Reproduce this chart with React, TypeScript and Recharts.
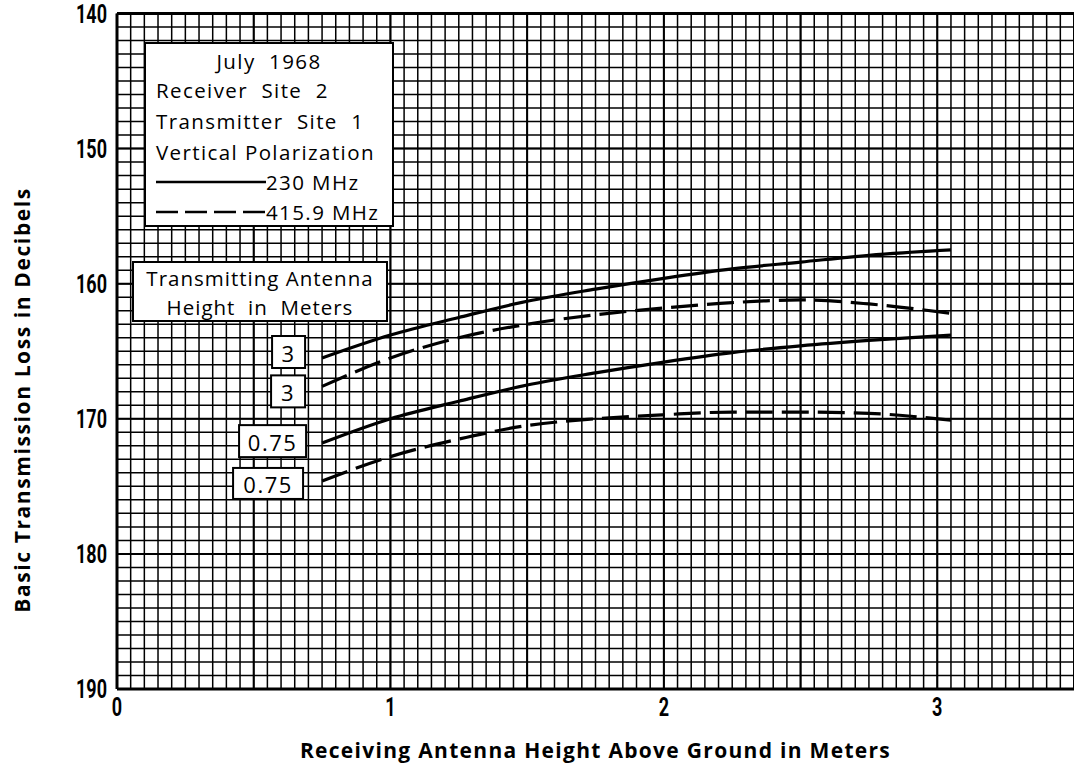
import { LineChart, Line, XAxis, YAxis, CartesianGrid, ReferenceLine, Label } from 'recharts';

// receiving antenna height (m) where the curves were read
const receiverHeights = [0.75, 1, 1.25, 1.5, 1.75, 2, 2.25, 2.5, 2.75, 3.05];

// basic transmission loss (dB)
const loss230Tx3 = [165.5, 163.8, 162.5, 161.3, 160.4, 159.6, 158.9, 158.4, 157.9, 157.5];
const loss416Tx3 = [167.6, 165.5, 164.0, 163.0, 162.3, 161.8, 161.4, 161.2, 161.5, 162.2];
const loss230Tx075 = [171.8, 170.0, 168.7, 167.5, 166.6, 165.8, 165.1, 164.6, 164.2, 163.8];
const loss416Tx075 = [174.6, 172.8, 171.5, 170.5, 170.0, 169.7, 169.5, 169.5, 169.6, 170.1];

const xTicks = [0, 1, 2, 3];
const yTicks = [140, 150, 160, 170, 180, 190];

// graph paper rulings
const minorX = Array.from({ length: 71 }, (_, i) => Math.round(i * 5) / 100);
const minorY = Array.from({ length: 51 }, (_, i) => 140 + i);
const majorX = [0.5, 1, 1.5, 2, 2.5, 3, 3.5];
const majorY = [150, 160, 170, 180];

const data = receiverHeights.map((h, i) => ({
  h,
  f230tx3: loss230Tx3[i],
  f416tx3: loss416Tx3[i],
  f230tx075: loss230Tx075[i],
  f416tx075: loss416Tx075[i],
}));

const series = [
  { key: 'f230tx3', tag: '3', dash: undefined, box: { dx: -50, dy: -22, w: 33, h: 32 } },
  { key: 'f416tx3', tag: '3', dash: '27 9', box: { dx: -51, dy: -11, w: 34, h: 32 } },
  { key: 'f230tx075', tag: '0.75', dash: undefined, box: { dx: -83, dy: -18, w: 67, h: 32 } },
  { key: 'f416tx075', tag: '0.75', dash: '27 9', box: { dx: -89, dy: -13, w: 70, h: 31 } },
];

const plain = '"Open Sans", "DejaVu Sans", sans-serif';
const lettering = 'Roboto, "Open Sans", sans-serif';

const makeTag = (tag: string, box: { dx: number; dy: number; w: number; h: number }) => (props: any) => {
  if (props.index !== 0) return null;
  const { x, y } = props;
  return (
    <g key={`tag-${tag}-${box.dy}`}>
      <rect x={x + box.dx} y={y + box.dy} width={box.w} height={box.h} fill="#fff" stroke="#000" strokeWidth={2} />
      <text
        x={x + box.dx + box.w / 2}
        y={y + box.dy + box.h / 2 + 1}
        textAnchor="middle"
        dominantBaseline="central"
        fontSize={22}
        letterSpacing={1.5}
        fontFamily={plain}
        fill="#000"
      >
        {tag}
      </text>
    </g>
  );
};

// tall narrow hand-lettered digits on the axes
const NarrowTick = ({ x, y, payload, anchor, dy }: any) => (
  <text
    transform={`translate(${x},${y}) scale(0.72,1)`}
    textAnchor={anchor}
    dy={dy}
    fontSize={25}
    fontWeight={700}
    fontFamily={lettering}
    fill="#000"
  >
    {payload.value}
  </text>
);

const row = (top: number): React.CSSProperties => ({
  position: 'absolute',
  left: 10,
  top: top - 13,
  height: 26,
  lineHeight: '26px',
  whiteSpace: 'pre',
});

export default function App() {
  return (
    <div style={{ position: 'absolute', left: 0, top: 0, width: 1074, height: 764, background: '#fff', overflow: 'hidden' }}>
      <LineChart width={1074} height={764} data={data} margin={{ top: 13.5, right: 0, bottom: 45, left: 0 }}>
        <CartesianGrid stroke="#000" strokeWidth={1.5} horizontalValues={minorY} verticalValues={minorX} />
        <CartesianGrid stroke="#000" strokeWidth={2} horizontalValues={majorY} verticalValues={majorX} />
        <XAxis
          dataKey="h"
          type="number"
          domain={[0, 3.5]}
          ticks={xTicks}
          interval={0}
          allowDataOverflow
          tickLine={false}
          tickSize={0}
          tickMargin={8}
          height={30}
          axisLine={{ stroke: '#000', strokeWidth: 3 }}
          tick={(p: any) => <NarrowTick {...p} anchor="middle" dy="0.75em" />}
        >
          <Label
            value="Receiving Antenna Height Above Ground in Meters"
            position="bottom"
            offset={24}
            style={{ fontSize: 21, fontWeight: 700, fill: '#000', fontFamily: plain, letterSpacing: 1.3 }}
          />
        </XAxis>
        <YAxis
          type="number"
          domain={[140, 190]}
          reversed
          ticks={yTicks}
          interval={0}
          allowDataOverflow
          width={117}
          tickLine={false}
          tickSize={0}
          tickMargin={10}
          axisLine={{ stroke: '#000', strokeWidth: 3 }}
          tick={(p: any) => <NarrowTick {...p} anchor="end" dy="0.36em" />}
        >
          <Label
            content={() => (
              <text
                x={22}
                y={400}
                transform="rotate(-90 22 400)"
                textAnchor="middle"
                dominantBaseline="central"
                fontSize={21}
                fontWeight={700}
                fontFamily={plain}
                letterSpacing={1.6}
                fill="#000"
              >
                Basic Transmission Loss in Decibels
              </text>
            )}
          />
        </YAxis>
        <ReferenceLine y={140} stroke="#000" strokeWidth={3} />
        {series.map((s) => (
          <Line
            key={s.key}
            dataKey={s.key}
            type="monotone"
            stroke="#000"
            strokeWidth={3.2}
            strokeDasharray={s.dash}
            dot={false}
            activeDot={false}
            isAnimationActive={false}
            label={makeTag(s.tag, s.box)}
          />
        ))}
      </LineChart>

      {/* legend box */}
      <div
        style={{
          position: 'absolute', left: 144, top: 42, width: 246, height: 181,
          border: '2px solid #000', background: '#fff', fontFamily: plain, fontSize: 20.5, color: '#000', letterSpacing: 1.4,
        }}
      >
        <div style={{ ...row(17), left: 0, width: 246, textAlign: 'center' }}>July  1968</div>
        <div style={row(46)}>Receiver  Site  2</div>
        <div style={row(77)}>Transmitter  Site  1</div>
        <div style={row(108)}>Vertical Polarization</div>
        <svg style={{ position: 'absolute', left: 10, top: 132 }} width={110} height={12}>
          <line x1={0} y1={6} x2={110} y2={6} stroke="#000" strokeWidth={2.5} />
        </svg>
        <div style={{ ...row(138), left: 120 }}>230 MHz</div>
        <svg style={{ position: 'absolute', left: 10, top: 162 }} width={110} height={12}>
          <line x1={0} y1={6} x2={110} y2={6} stroke="#000" strokeWidth={2.5} strokeDasharray="22 7" />
        </svg>
        <div style={{ ...row(168), left: 120 }}>415.9 MHz</div>
      </div>

      {/* transmitting antenna caption */}
      <div
        style={{
          position: 'absolute', left: 132, top: 261, width: 252, height: 57,
          border: '2px solid #000', background: '#fff', fontFamily: plain, fontSize: 20.5, color: '#000', letterSpacing: 1,
        }}
      >
        <div style={{ ...row(15), left: 0, width: 252, textAlign: 'center' }}>Transmitting Antenna</div>
        <div style={{ ...row(44), left: 0, width: 252, textAlign: 'center' }}>Height  in  Meters</div>
      </div>
    </div>
  );
}
